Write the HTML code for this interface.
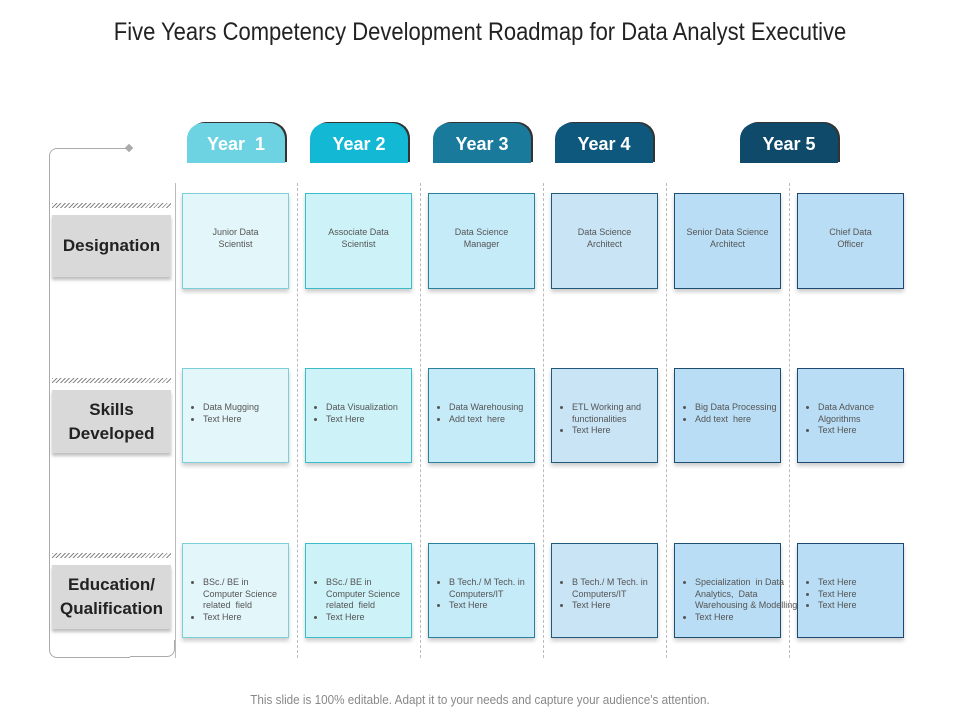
<!DOCTYPE html>
<html><head><meta charset="utf-8"><style>
body{margin:0;width:960px;height:720px;background:#fff;font-family:"Liberation Sans",sans-serif;position:relative;overflow:hidden}
.abs{position:absolute}
.title{left:0;width:960px;top:18px;text-align:center;font-size:25px;color:#222;transform:scaleX(.88);letter-spacing:0}
.tab{height:40px;width:98px;border-radius:16px 16px 0 0;color:#fff;font-weight:bold;font-size:18px;text-align:center;line-height:42px;box-shadow:2px -1px 0 #333}
.card{width:107px;box-sizing:border-box;border:1px solid;box-shadow:0 3px 4px rgba(0,0,0,.2);font-size:9px;color:#555;line-height:11.5px}
.card.c{text-align:center;padding-top:33px}
.card ul{margin:33px 0 0 0;padding:0 0 0 20px}
.card li{margin:0}
.lab{left:52px;width:119px;background:#d9d9d9;box-shadow:0 3px 3px rgba(0,0,0,.25);font-weight:bold;font-size:17px;color:#222;display:flex;align-items:center;justify-content:center;text-align:center;line-height:24px}
.hatch{left:52px;width:119px;height:5px;background:repeating-linear-gradient(135deg,#888 0 1px,#fff 1px 3px)}
.vd{width:0;border-left:1px dashed #bbb;top:183px;height:475px}
.foot{left:0;width:960px;top:692px;text-align:center;font-size:13px;color:#888;transform:scaleX(.9)}
</style></head><body>
<div class="abs title">Five Years Competency Development Roadmap for Data Analyst Executive</div>

<div class="abs" style="left:49px;top:148px;width:80px;height:508px;border-left:1px solid #aaa;border-top:1px solid #aaa;border-bottom:1px solid #aaa;border-radius:8px 0 0 8px"></div>
<div class="abs" style="left:126px;top:145px;width:6px;height:6px;background:#aaa;transform:rotate(45deg)"></div>
<div class="abs" style="left:129px;top:640px;width:45px;height:16px;border-right:1px solid #aaa;border-bottom:1px solid #aaa;border-radius:0 0 8px 0;background:#fff"></div>
<div class="abs" style="left:128px;top:655px;width:2px;height:2px;background:#fff"></div>

<div class="abs vd" style="left:175px;border-left:1px solid #bbb"></div>
<div class="abs vd" style="left:297px"></div>
<div class="abs vd" style="left:420px"></div>
<div class="abs vd" style="left:543px"></div>
<div class="abs vd" style="left:666px"></div>
<div class="abs vd" style="left:789px"></div>

<div class="abs tab" style="left:187px;top:123px;background:#6dd3e3">Year&nbsp; 1</div>
<div class="abs tab" style="left:310px;top:123px;background:#12b8d4">Year 2</div>
<div class="abs tab" style="left:433px;top:123px;background:#1a7a9c">Year 3</div>
<div class="abs tab" style="left:555px;top:123px;background:#0e587e">Year 4</div>
<div class="abs tab" style="left:740px;top:123px;background:#0f4a6b">Year 5</div>

<div class="abs hatch" style="top:203px"></div>
<div class="abs lab" style="top:215px;height:62px">Designation</div>
<div class="abs hatch" style="top:378px"></div>
<div class="abs lab" style="top:390px;height:63px">Skills<br>Developed</div>
<div class="abs hatch" style="top:553px"></div>
<div class="abs lab" style="top:565px;height:64px">Education/<br>Qualification</div>

<!-- row 1 -->
<div class="abs card c" style="left:182px;top:193px;height:96px;background:#e3f6fa;border-color:#7ccfd8">Junior Data<br>Scientist</div>
<div class="abs card c" style="left:305px;top:193px;height:96px;background:#cdf2f8;border-color:#3bbcc8">Associate Data<br>Scientist</div>
<div class="abs card c" style="left:428px;top:193px;height:96px;background:#c5eaf8;border-color:#2a7f9a">Data Science<br>Manager</div>
<div class="abs card c" style="left:551px;top:193px;height:96px;background:#c8e4f5;border-color:#1f5a7a">Data Science<br>Architect</div>
<div class="abs card c" style="left:674px;top:193px;height:96px;background:#b9ddf4;border-color:#1e4e6e">Senior Data Science<br>Architect</div>
<div class="abs card c" style="left:797px;top:193px;height:96px;background:#b9ddf4;border-color:#1e4870">Chief Data<br>Officer</div>

<!-- row 2 -->
<div class="abs card" style="left:182px;top:368px;height:95px;background:#e3f6fa;border-color:#7ccfd8"><ul><li>Data Mugging</li><li>Text Here</li></ul></div>
<div class="abs card" style="left:305px;top:368px;height:95px;background:#cdf2f8;border-color:#3bbcc8"><ul><li>Data Visualization</li><li>Text Here</li></ul></div>
<div class="abs card" style="left:428px;top:368px;height:95px;background:#c5eaf8;border-color:#2a7f9a"><ul><li>Data Warehousing</li><li>Add text &nbsp;here</li></ul></div>
<div class="abs card" style="left:551px;top:368px;height:95px;background:#c8e4f5;border-color:#1f5a7a"><ul><li>ETL Working and functionalities</li><li>Text Here</li></ul></div>
<div class="abs card" style="left:674px;top:368px;height:95px;background:#b9ddf4;border-color:#1e4e6e"><ul><li>Big Data Processing</li><li>Add text &nbsp;here</li></ul></div>
<div class="abs card" style="left:797px;top:368px;height:95px;background:#b9ddf4;border-color:#1e4870"><ul><li>Data Advance Algorithms</li><li>Text Here</li></ul></div>

<!-- row 3 -->
<div class="abs card" style="left:182px;top:543px;height:95px;background:#e3f6fa;border-color:#7ccfd8"><ul><li>BSc./ BE in Computer Science related &nbsp;field</li><li>Text Here</li></ul></div>
<div class="abs card" style="left:305px;top:543px;height:95px;background:#cdf2f8;border-color:#3bbcc8"><ul><li>BSc./ BE in Computer Science related &nbsp;field</li><li>Text Here</li></ul></div>
<div class="abs card" style="left:428px;top:543px;height:95px;background:#c5eaf8;border-color:#2a7f9a"><ul><li>B Tech./ M Tech. in Computers/IT</li><li>Text Here</li></ul></div>
<div class="abs card" style="left:551px;top:543px;height:95px;background:#c8e4f5;border-color:#1f5a7a"><ul><li>B Tech./ M Tech. in Computers/IT</li><li>Text Here</li></ul></div>
<div class="abs card" style="left:674px;top:543px;height:95px;background:#b9ddf4;border-color:#1e4e6e;overflow:visible"><ul style="white-space:nowrap"><li>Specialization &nbsp;in Data<br>Analytics, &nbsp;Data<br>Warehousing &amp; Modelling</li><li>Text Here</li></ul></div>
<div class="abs card" style="left:797px;top:543px;height:95px;background:#b9ddf4;border-color:#1e4870"><ul><li>Text Here</li><li>Text Here</li><li>Text Here</li></ul></div>

<div class="abs foot">This slide is 100% editable. Adapt it to your needs and capture your audience's attention.</div>
</body></html>
